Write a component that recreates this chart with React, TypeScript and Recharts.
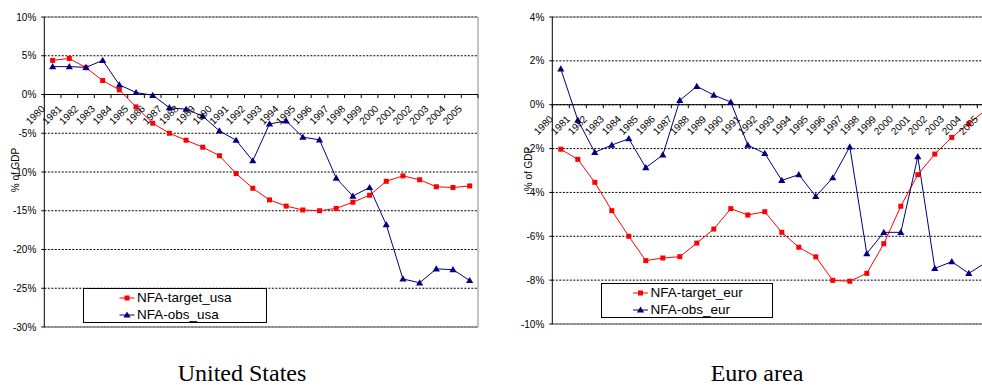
import React from "react";
import { LineChart, Line, XAxis, YAxis, CartesianGrid, ReferenceLine } from "recharts";

const years = [
  "1980", "1981", "1982", "1983", "1984", "1985", "1986", "1987", "1988",
  "1989", "1990", "1991", "1992", "1993", "1994", "1995", "1996", "1997",
  "1998", "1999", "2000", "2001", "2002", "2003", "2004", "2005",
];

const usTarget = [
  4.4, 4.65, 3.45, 1.8, 0.6, -1.6, -3.7, -5.0, -5.9, -6.8, -7.9, -10.2, -12.1,
  -13.6, -14.4, -14.9, -15.0, -14.7, -13.9, -13.0, -11.2, -10.5, -11.0, -11.9, -12.0, -11.8,
];
const usObs = [
  3.6, 3.6, 3.5, 4.4, 1.25, 0.26, -0.1, -1.7, -1.9, -2.8, -4.7, -5.9, -8.55,
  -3.8, -3.4, -5.5, -5.85, -10.8, -13.1, -12.0, -16.8, -23.8, -24.3, -22.5, -22.6, -24.0,
];
const euTarget = [
  -2.03, -2.49, -3.54, -4.83, -6.0, -7.11, -6.99, -6.93, -6.31, -5.67, -4.74, -5.03, -4.88,
  -5.82, -6.5, -6.94, -8.01, -8.05, -7.69, -6.34, -4.63, -3.19, -2.25, -1.49, -0.87, -0.23,
];
const euObs = [
  1.63, -0.7, -2.17, -1.84, -1.55, -2.87, -2.29, 0.2, 0.84, 0.44, 0.12, -1.84, -2.22,
  -3.45, -3.19, -4.18, -3.33, -1.92, -6.79, -5.82, -5.82, -2.37, -7.46, -7.16, -7.69, -7.2,
];

const usYTicks = [-30, -25, -20, -15, -10, -5, 0, 5, 10];
const euYTicks = [-10, -8, -6, -4, -2, 0, 2, 4];

const RED = "#FF0000";
const NAVY = "#000080";
const SANS = "'Liberation Sans', Arial, sans-serif";
const SERIF = "'Liberation Serif', 'Times New Roman', serif";

const boundaries = years.map((_, i) => i).concat(years.length);

function SquareDot(props: any) {
  const { cx, cy, index } = props;
  if (cx == null || cy == null) return null;
  return <rect key={`s${index}`} x={cx - 2.5} y={cy - 2.5} width={5} height={5} fill={RED} />;
}

function TriangleDot(props: any) {
  const { cx, cy, index } = props;
  if (cx == null || cy == null) return null;
  return (
    <polygon
      key={`t${index}`}
      points={`${cx},${cy - 3.6} ${cx - 3.6},${cy + 2.6} ${cx + 3.6},${cy + 2.6}`}
      fill={NAVY}
    />
  );
}

interface PanelProps {
  left: number;
  width: number;
  height: number;
  yAxisWidth: number;
  marginRight: number;
  xAxisHeight: number;
  target: number[];
  obs: number[];
  yTicks: number[];
  targetName: string;
  obsName: string;
  legend: { left: number; top: number; width: number; height: number; markerX: number };
  yLabel: { x: number; y: number };
}

function Panel(p: PanelProps) {
  const top = 17;
  const yMin = p.yTicks[0];
  const yMax = p.yTicks[p.yTicks.length - 1];
  const plotLeft = p.yAxisWidth;
  const plotRight = p.width - p.marginRight;
  const plotHeight = p.height - top - p.xAxisHeight;
  const zeroY = top + (plotHeight * yMax) / (yMax - yMin);
  const step = (plotRight - plotLeft) / years.length;

  const data = years.map((year, i) => ({ x: i + 0.5, year, target: p.target[i], obs: p.obs[i] }));

  const YearTick = (props: any) => {
    const { x, payload } = props;
    const i = payload.value as number;
    const ax = x + step / 2 - 7;
    const ay = zeroY + 15;
    return (
      <g>
        <line x1={x} y1={zeroY} x2={x} y2={zeroY + 3.5} stroke="#000" />
        {i < years.length && (
          <text
            x={ax}
            y={ay}
            transform={`rotate(-45 ${ax} ${ay})`}
            textAnchor="end"
            fontSize={10}
            fontFamily={SANS}
            fill="#000"
          >
            {years[i]}
          </text>
        )}
      </g>
    );
  };

  const mx = p.legend.markerX;

  return (
    <div style={{ position: "absolute", left: p.left, top: 0, width: p.width, height: p.height }}>
      <LineChart
        width={p.width}
        height={p.height}
        data={data}
        margin={{ top, right: p.marginRight, bottom: 0, left: 0 }}
      >
        <CartesianGrid vertical={false} stroke="#000" strokeDasharray="2 1.5" />
        <XAxis
          type="number"
          dataKey="x"
          domain={[0, years.length]}
          ticks={boundaries}
          interval={0}
          height={p.xAxisHeight}
          axisLine={false}
          tickLine={false}
          tick={YearTick}
        />
        <YAxis
          width={p.yAxisWidth}
          domain={[yMin, yMax]}
          ticks={p.yTicks}
          interval={0}
          tickFormatter={(v: number) => `${v}%`}
          axisLine={{ stroke: "#000" }}
          tickLine={{ stroke: "#000" }}
          tickSize={3}
          tickMargin={5}
          tick={{ fontSize: 10, fill: "#000", fontFamily: SANS }}
        />
        <ReferenceLine y={yMax} stroke="#888" />
        <ReferenceLine y={yMin} stroke="#888" strokeWidth={1.5} />
        <ReferenceLine x={years.length} stroke="#888" />
        <ReferenceLine y={0} stroke="#000" />
        <Line
          type="linear"
          dataKey="target"
          stroke={RED}
          strokeWidth={1}
          dot={SquareDot}
          activeDot={false}
          isAnimationActive={false}
        />
        <Line
          type="linear"
          dataKey="obs"
          stroke={NAVY}
          strokeWidth={1}
          dot={TriangleDot}
          activeDot={false}
          isAnimationActive={false}
        />
      </LineChart>
      <div
        style={{
          position: "absolute",
          left: p.yLabel.x - 30,
          top: p.yLabel.y - 7,
          width: 60,
          height: 14,
          lineHeight: "14px",
          textAlign: "center",
          transform: "rotate(-90deg)",
          fontFamily: SANS,
          fontSize: 10,
          color: "#000",
          whiteSpace: "nowrap",
        }}
      >
        % of GDP
      </div>
      <div
        style={{
          position: "absolute",
          left: p.legend.left,
          top: p.legend.top,
          width: p.legend.width,
          height: p.legend.height,
          boxSizing: "border-box",
          border: "1px solid #000",
          background: "#fff",
          fontFamily: SANS,
          fontSize: 13.5,
          color: "#000",
        }}
      >
        {[
          { name: p.targetName, color: RED, square: true },
          { name: p.obsName, color: NAVY, square: false },
        ].map((item, k) => (
          <div
            key={item.name}
            style={{
              position: "absolute",
              left: 0,
              top: k === 0 ? 1 : 18,
              height: 16,
              lineHeight: "16px",
              display: "flex",
              alignItems: "center",
              whiteSpace: "nowrap",
            }}
          >
            <svg width={mx + 10} height={16} style={{ flex: "none" }}>
              <line x1={mx - 7.5} y1={8} x2={mx + 7.5} y2={8} stroke={item.color} />
              {item.square ? (
                <rect x={mx - 2.5} y={5.5} width={5} height={5} fill={item.color} />
              ) : (
                <polygon
                  points={`${mx},4.4 ${mx - 3.6},10.6 ${mx + 3.6},10.6`}
                  fill={item.color}
                />
              )}
            </svg>
            <span>{item.name}</span>
          </div>
        ))}
      </div>
    </div>
  );
}

export default function App() {
  const caption = {
    position: "absolute" as const,
    top: 362,
    height: 22,
    textAlign: "center" as const,
    fontFamily: SERIF,
    fontSize: 24,
    lineHeight: "22px",
    color: "#000",
    whiteSpace: "nowrap" as const,
  };
  return (
    <div
      style={{
        position: "absolute",
        left: 0,
        top: 0,
        width: 982,
        height: 385,
        overflow: "hidden",
        background: "#fff",
      }}
    >
      <Panel
        left={0}
        width={490}
        height={340}
        yAxisWidth={44.3}
        marginRight={12}
        xAxisHeight={13}
        target={usTarget}
        obs={usObs}
        yTicks={usYTicks}
        targetName="NFA-target_usa"
        obsName="NFA-obs_usa"
        legend={{ left: 83, top: 288, width: 184, height: 35, markerX: 43 }}
        yLabel={{ x: 16, y: 170 }}
      />
      <Panel
        left={500}
        width={510}
        height={340}
        yAxisWidth={52.3}
        marginRight={15.7}
        xAxisHeight={16}
        target={euTarget}
        obs={euObs}
        yTicks={euYTicks}
        targetName="NFA-target_eur"
        obsName="NFA-obs_eur"
        legend={{ left: 101, top: 283, width: 172, height: 35, markerX: 38.5 }}
        yLabel={{ x: 28.5, y: 169 }}
      />
      <div style={{ ...caption, left: 0, width: 484 }}>United States</div>
      <div style={{ ...caption, left: 657, width: 200 }}>Euro area</div>
    </div>
  );
}
